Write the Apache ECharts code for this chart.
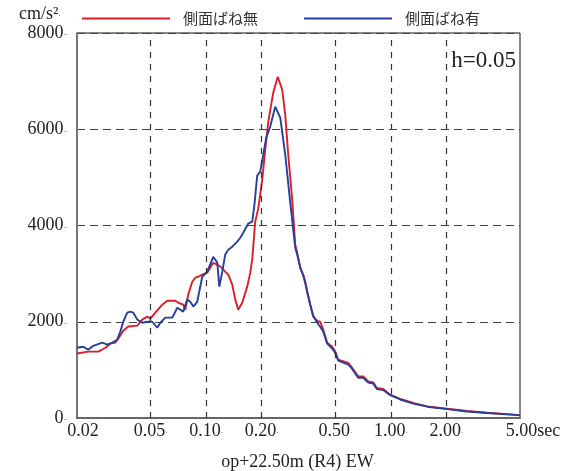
<!DOCTYPE html>
<html><head><meta charset="utf-8">
<script src="https://cdn.jsdelivr.net/npm/echarts@6/dist/echarts.min.js"></script>
<style>html,body{margin:0;padding:0;background:#fff}#c{width:571px;height:471px}</style>
</head><body><div id="c"></div>
<script>
// Period (sec) and spectral acceleration (cm/s^2)
const periodsRed = [0.020,0.0230,0.0261,0.0285,0.0303,0.0322,0.0335,0.0356,0.0379,0.0424,0.0451,0.0480,0.0499,0.0531,0.0579,0.0616,0.0681,0.0707,0.0752,0.0771,0.0800,0.0841,0.0873,0.0906,0.0953,0.1014,0.1093,0.1149,0.1193,0.1269,0.1318,0.1385,0.1438,0.1492,0.1568,0.1669,0.1733,0.1776,0.1844,0.1914,0.2012,0.2089,0.2169,0.2308,0.2441,0.2582,0.2681,0.2783,0.2924,0.3036,0.3112,0.3231,0.3354,0.3439,0.3525,0.366,0.3799,0.3994,0.4146,0.4304,0.4523,0.4814,0.4997,0.5188,0.5877,0.61,0.6658,0.7084,0.7541,0.8024,0.8404,0.909,0.9916,1.123,1.338,1.573,2.018,2.588,3.322,4.648,5.0];
const accelRed = [1340,1380,1380,1460,1545,1565,1650,1815,1900,1920,2045,2105,2065,2190,2355,2435,2435,2395,2355,2250,2560,2830,2915,2935,2980,3020,3225,3185,3145,3040,2980,2770,2460,2250,2395,2730,3020,3290,4080,4350,4950,5575,6155,6760,7090,6820,6300,5470,4535,3600,3435,3125,2980,2830,2625,2355,2105,2020,2000,1835,1565,1480,1385,1210,1145,1070,865,865,760,740,625,605,485,395,310,240,195,145,110,70,60];
const periodsBlue = [0.020,0.0216,0.0230,0.0245,0.0274,0.0292,0.0311,0.0330,0.0343,0.0356,0.0374,0.0389,0.0403,0.0424,0.0451,0.0480,0.0511,0.0544,0.0565,0.0601,0.0656,0.0698,0.0752,0.0790,0.0821,0.0852,0.0895,0.0953,0.1014,0.1093,0.1149,0.1178,0.1223,0.1269,0.1318,0.1385,0.1474,0.1530,0.1588,0.1690,0.1776,0.1821,0.1890,0.1963,0.2038,0.2115,0.2223,0.2367,0.2426,0.2519,0.2681,0.2853,0.3036,0.3112,0.3231,0.3354,0.3439,0.3525,0.366,0.3799,0.3994,0.4146,0.4304,0.4523,0.4814,0.4997,0.5188,0.5877,0.61,0.6658,0.7084,0.7541,0.8024,0.8404,0.909,0.9916,1.123,1.338,1.573,2.018,2.588,3.322,4.648,5.0];
const accelBlue = [1460,1480,1420,1500,1565,1525,1565,1625,1795,2000,2190,2210,2190,2045,1980,2000,2000,1875,1980,2085,2085,2290,2210,2460,2415,2315,2415,2935,3040,3350,3230,2730,3040,3395,3495,3560,3665,3745,3850,4040,4080,4390,5035,5120,5470,5825,6055,6470,6510,6240,5470,4475,3540,3395,3125,2955,2810,2625,2355,2125,1980,1895,1795,1545,1440,1355,1190,1110,1045,835,835,735,715,600,580,475,385,295,235,185,135,105,65,55];
const seriesNames = ['側面ばね無','側面ばね有'];
const xTickValues = [0.02,0.05,0.1,0.2,0.5,1,2,5];
const xTickLabels = ['0.02','0.05{d|.}','0.10{d|.}','0.20{d|.}','0.50{d|.}','1.00{d|.}','2.00{d|.}','5.00sec'];

const SERIF = "'Liberation Serif','DejaVu Serif',serif";
const CJK = "'Noto Sans CJK JP','Noto Sans',sans-serif";
const RED = '#d81f2a', BLUE = '#263e9c';

const pairs = (xs, ys) => xs.map((x, i) => [x, ys[i]]);

const chart = echarts.init(document.getElementById('c'), null, {renderer: 'canvas'});
chart.setOption({
  animation: false,
  backgroundColor: '#fff',
  grid: {left: 77, right: 51, top: 33, bottom: 53, outerBoundsMode: 'none', containLabel: false,
    show: true, borderColor: '#111', borderWidth: 1, backgroundColor: 'transparent'},
  legend: {
    data: seriesNames, left: 77, top: 6, icon: 'rect', itemWidth: 88, itemHeight: 2, itemGap: 46,
    textStyle: {fontFamily: CJK, fontSize: 15, color: '#333', padding: [0, 0, 0, 8]}
  },
  xAxis: {
    type: 'log', logBase: 10, min: 0.02, max: 5,
    name: 'op+22.50m (R4) EW{r|.}', nameLocation: 'middle', nameGap: 35,
    nameTextStyle: {fontFamily: SERIF, fontSize: 18, color: '#222', rich: {r: {color: '#d33', fontSize: 8, fontFamily: SERIF}}},
    axisLine: {show: true, lineStyle: {color: '#666', width: 2}},
    axisTick: {show: false}, axisLabel: {show: false}, splitLine: {show: false}, minorSplitLine: {show: false}
  },
  yAxis: {
    type: 'value', min: 0, max: 8000, interval: 2000,
    axisLine: {show: true, lineStyle: {color: '#777', width: 2}},
    axisTick: {show: false},
    axisLabel: {margin: 9, fontFamily: SERIF, fontSize: 18, color: '#222',
      formatter: v => v + '{d|..}', rich: {d: {fontSize: 9, color: '#555', fontFamily: SERIF}}},
    splitLine: {show: true, lineStyle: {type: [8, 5], color: '#444', width: 1.2}}
  },
  graphic: [
    {type: 'text', left: 19, top: 5, style: {text: 'cm/s²{d|.}', font: '18px ' + SERIF, fill: '#222', rich: {d: {fontSize: 8, fill: '#666'}}}},
    {type: 'text', right: 55, top: 49, style: {text: 'h=0.05', font: '23px ' + SERIF, fill: '#222'}}
  ],
  series: [
    {
      type: 'line', name: '__grid', data: [], silent: true, z: 1,
      markLine: {
        silent: true, animation: false, symbol: ['none', 'none'],
        lineStyle: {type: [6, 6], color: '#333', width: 1.2},
        emphasis: {disabled: true},
        label: {show: true, position: 'start', distance: 4, color: '#222', fontFamily: SERIF, fontSize: 18,
          rich: {d: {fontSize: 9, color: '#555', fontFamily: SERIF}}},
        data: xTickValues.map((v, i) => {
          const edge = (i === 0 || i === xTickValues.length - 1);
          const item = {xAxis: v, label: {formatter: xTickLabels[i]}};
          if (edge) {
            item.lineStyle = {color: 'rgba(0,0,0,0)', width: 0};
            item.label.padding = i === 0 ? [0, 0, 0, 12] : [0, 0, 0, 26];
          }
          return item;
        })
      }
    },
    {type: 'line', name: seriesNames[0], data: pairs(periodsRed, accelRed), showSymbol: false, symbol: 'none',
      lineStyle: {color: RED, width: 1.9}, itemStyle: {color: RED}, z: 3},
    {type: 'line', name: seriesNames[1], data: pairs(periodsBlue, accelBlue), showSymbol: false, symbol: 'none',
      lineStyle: {color: BLUE, width: 1.9}, itemStyle: {color: BLUE}, z: 4}
  ]
});
</script></body></html>
